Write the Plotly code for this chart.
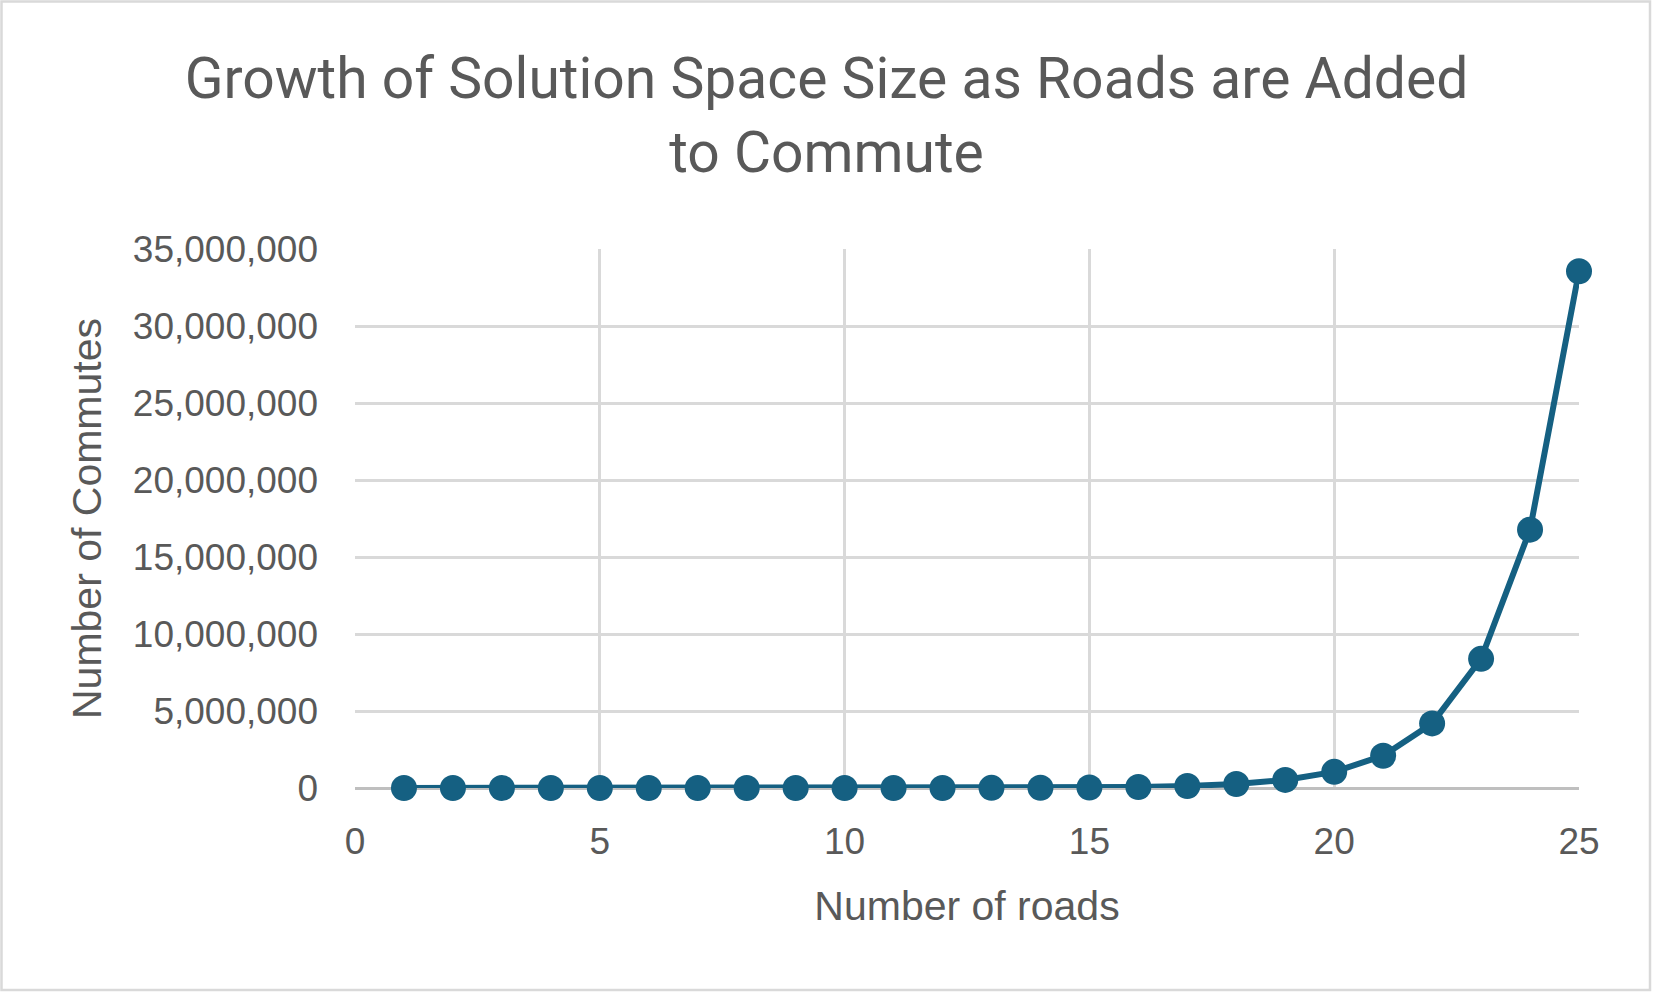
import plotly.graph_objects as go

# Data
roads = [1, 2, 3, 4, 5, 6, 7, 8, 9, 10, 11, 12, 13, 14, 15, 16, 17, 18, 19, 20, 21, 22, 23, 24, 25]
commutes = [2, 4, 8, 16, 32, 64, 128, 256, 512, 1024, 2048, 4096, 8192, 16384, 32768,
            65536, 131072, 262144, 524288, 1048576, 2097152, 4194304, 8388608,
            16777216, 33554432]

title_text = "Growth of Solution Space Size as Roads are Added<br>to Commute"
x_title = "Number of roads"
y_title = "Number of Commutes"

W, H = 1653, 993
ML, MR, MT, MB = 355, 74, 249, 205

TXT = "#595959"
LINE = "#156082"
GRID = "#D9D9D9"

fig = go.Figure()
fig.add_trace(go.Scatter(
    x=roads, y=commutes, mode="lines+markers",
    line=dict(color=LINE, width=6),
    marker=dict(color=LINE, size=26),
    showlegend=False, hoverinfo="x+y", cliponaxis=False,
))

pw = W - ML - MR
ph = H - MT - MB
fig.add_shape(type="rect", xref="paper", yref="paper",
              x0=-(ML - 1.5) / pw, x1=1 + (MR - 3) / pw,
              y0=-(MB - 3) / ph, y1=1 + (MT - 1.5) / ph,
              line=dict(color=GRID, width=2.5), fillcolor="rgba(0,0,0,0)", layer="below")

fig.update_layout(
    width=W, height=H,
    margin=dict(l=ML, r=MR, t=MT, b=MB, pad=0),
    paper_bgcolor="white", plot_bgcolor="white",
    font=dict(family="Liberation Sans, Arial, sans-serif", color=TXT),
    title=dict(text=title_text, x=0.5, xanchor="center", xref="container",
               y=1 - 98 / H, yanchor="top", yref="container",
               font=dict(family="Roboto, Liberation Sans, sans-serif", size=57, color=TXT)),
)
fig.update_xaxes(
    range=[0, 25], dtick=5, tick0=0,
    showgrid=True, gridcolor=GRID, gridwidth=2.5,
    zeroline=False, showline=False,
    ticks="", ticklabelstandoff=28,
    tickfont=dict(size=37, color=TXT),
    title=dict(text=x_title, font=dict(size=41, color=TXT), standoff=30),
)
fig.update_yaxes(
    range=[0, 35000000], dtick=5000000, tick0=0,
    tickformat=",d",
    showgrid=True, gridcolor=GRID, gridwidth=2.5,
    zeroline=True, zerolinecolor="#BFBFBF", zerolinewidth=2.5,
    showline=False,
    ticks="", ticklabelstandoff=36,
    tickfont=dict(size=37, color=TXT),
    title=dict(text=y_title, font=dict(size=41, color=TXT), standoff=18),
)

fig.write_html("out.html", config={"displayModeBar": False},
               post_script="document.body.style.margin='0';document.body.style.overflow='hidden';")
